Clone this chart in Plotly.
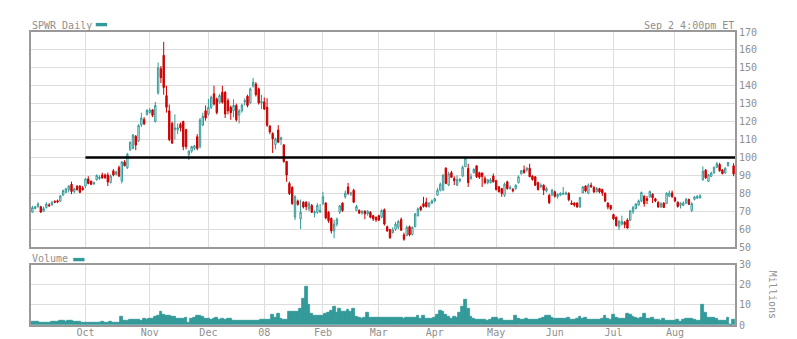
import pandas as pd
import plotly.graph_objects as go

# ---------------- data ----------------
holidays = ["2007-11-22", "2007-12-25", "2008-01-01", "2008-01-21", "2008-02-18",
            "2008-03-21", "2008-05-26", "2008-07-04", "2008-09-01"]
days = [d for d in pd.bdate_range("2007-09-04", "2008-09-02") if d.strftime("%Y-%m-%d") not in holidays]
dates = [d.strftime("%Y-%m-%d") for d in days]

opens = [69.5,71.5,72.5,72.5,70,72,73.5,73.5,75.5,75.8,75.5,79,80.5,82,85,81,84,84,83,
         84,88,86.8,85.2,87.5,88.2,90.2,90.2,90.2,86,92.5,90.6,94.3,86.8,97.5,94.3,104.3,105,111.8,109.3,118.2,121.2,123.8,
         125,126.5,120,136,149.5,157,134.5,126,119,115.5,115.5,118.5,120,115.5,101.5,103.5,105,111.5,106,118,126,
         124.2,128,135.5,132.6,130.8,136.4,136.4,131.7,128,126,129,123.6,126,131,134.2,130.4,139.8,141,138.3,130.4,
         131,128,117.5,113.4,107.2,115.3,110,107,97.7,85.5,83.2,66.6,75.7,65.7,75.1,75,71.3,73.2,69,69.4,69.4,
         74.2,74.5,69.4,66,59,62.8,69.4,74.5,78,83.5,79.5,81.7,70.4,70.4,69,70,68.5,69.4,67.5,66.6,
         67.5,66.6,70.8,61.3,59.8,58,60,61,65.3,56.8,56.4,61.3,57,61.3,67.5,72.3,74.2,75,72.6,74.5,
         75.7,78.9,81.7,81.7,94,84.5,91.5,88.3,84.5,87,89.6,94.9,93.8,88.3,91.5,95.3,91.5,91.3,88.3,85.9,85.9,89.6,
         87,83.6,82.6,78.9,86.4,82.6,82.1,82.6,85.9,90.8,93,93,94,89.6,89.2,85.9,83.6,84.5,81.3,78.9,79,
         80.8,78,79,79.4,79.5,80,74.5,74.5,74.5,72.3,80.2,84,80,84.5,83.2,80.8,82.6,82.1,80,74.5,73.2,
         68.1,66.6,61.3,62.8,63.8,65.1,64.9,69.6,71.5,73.4,75.7,78.3,77,78,79.4,76.9,75,72.3,74.5,74.2,78.3,80.2,
         77.5,75,73.2,73.2,74.5,76.6,70.4,76.6,77.2,77.5,87.5,92.9,86.6,89.4,91.3,94.5,96,93,91.3,95.3,None,95.3]
highs = [73,73,75,73,72.5,75,74.5,75.5,76,76.5,79,82,83,84.5,86.5,83,84.5,84.5,84,
         88.5,89.5,87,86.5,90.5,90,91.5,91,91.5,90.5,93.5,92.5,95.5,98,98.5,102.5,109,113,112.5,118.5,125,122.5,127,
         127.5,127,131,153,151,164.5,140,129.5,120,124,119,119.5,120.5,116,104,106.5,107,113,122,125,129,
         132.6,134.5,140,133.5,135.5,140,137,133,129,132.5,130,127,130,133,135,139,144.3,142,139,135,
         133.5,133,118,114,111,118,111.5,107.5,98,86.5,84,79,76.5,76.5,75.5,75.5,75.5,74,70.5,74.5,74,
         80.8,75,70,66.5,65,66.5,73.5,75,81.5,85.8,80.5,82.5,73.5,71,70.5,70.5,70.5,70,68,67,
         68,71,71.5,62,60,61,64,65,66.5,58,62,62,61.5,69,72,73,78,77.5,75,76.5,
         77.5,83,86,90.5,94.5,92,92.5,89.5,90,88.5,95.5,100.5,96.5,91,94,95.5,92,91.5,89.5,88,88.5,91,
         87.5,84,83,86,87,84.5,83,85,90,93,95.5,94.5,96.5,90,89.5,86.5,85.5,85,83.5,79.5,82.5,
         81.5,80,80.5,83.5,81,80.5,76,75,75,78,84,84.5,85.5,86,84,83.5,83,82.5,80.5,75,73.5,
         68.5,67,65,67.5,64.5,66,70.5,73,74.5,76.5,81,79,78.5,81.5,80,77.5,75.5,75,75,80.5,81.5,81.5,
         78,75.5,75,75.5,77.5,77,75,78.5,79,79.5,95,93.5,90.8,92,95,97.5,97,93.5,94.5,97.5,None,96.8]
lows = [69,71,72,69,69.5,71.5,72.5,73,74.5,74.5,75.5,78.5,80,80.5,79.5,80,81.5,80,81.5,
        83,85,84.5,84.8,87,87.5,88,88,84,85.5,89.5,90,89,85.5,95,93.5,103.5,104.5,104,108.5,117,118,123.5,
        124.5,122.5,119.5,135,141.5,135,125,109,107.5,110,113,114.5,104,104.5,98.5,102.5,104,104,105,117.5,120.5,
        123.3,127,129,124,130,130,122,124,121,122.5,120,119,125,129,128,130,139,134,129.5,127,
        126.5,117,113,102.5,104.5,108,107,97,86.4,79,73.5,65,73,60,71.5,70.5,70,69,66.5,68.5,70,
        73.5,65.5,63.5,57.5,54.9,61.5,68.5,69.5,77,79,78.5,74.5,70,68.5,68,65.5,67.5,66,64.5,64,
        64.5,66,62,58.5,54.5,57.5,59,60,59,53.5,56,56,56.5,61,67,70,72,72,72,74,
        75,78.5,81,81.5,85,84,88.5,84.5,84,86,89,94.5,83.5,87.5,91,88.5,88,83.5,85,85,85.5,86,
        81.5,80.5,78,78,82,82,80.5,82,85.5,90.5,91,92,89,87,84,81.5,83,79,80.5,74,78.5,
        77.5,77,78.5,79,79,75.5,73.5,72.5,72,72,80,80.5,79.5,83,80,80.5,80,78.5,75,71,70.5,
        65,61.5,59.5,62,60.5,60.2,64.5,68.5,71,73,75,72.5,74,77.5,74.5,75,72,72,71.8,74,78,77.5,
        75,72,71.5,73,74,73.5,69.5,76,77,77,87,88,86.5,89,91,94,92,90.5,91,95,None,89.5]
closes = [72,72.5,74,69.5,71.5,74,73,75,75,75.2,78.5,81.5,82.5,84,81,82.5,82,80.5,82,
          88,85.5,85,86,90,89,88.7,88.7,86.3,89.6,90.2,91.9,89.6,97.5,95.3,101.8,108.4,112.5,106.9,117.8,122,118.8,126.2,
          126.5,123.5,129,150,144.5,139,128,110,108,116.5,116.5,116.5,106,106,103.5,106,106.5,105,121,123,122,
          127.9,133.6,129.8,125,134.5,130.8,124.2,126,125,129,121,126,129.2,131.7,129,138.3,142,135,130.4,131.2,
          127,118,114.2,110.4,110.4,108.5,111,97.7,90.2,79.8,74.2,78,73.8,69.4,72.3,72.5,74.2,69.4,69.5,73.2,70.5,
          78,66.2,64.7,59,62.8,65.5,73,70.4,80,80,80.2,75,72.6,68.9,70,68.5,70,66.6,65.7,65.1,
          65,70.4,62.8,59,55.2,59.6,62.8,64.3,59.4,54.3,61,56.8,61,68.5,71.3,70.8,72.6,72.6,74.5,75.7,
          77,81.7,85,90.2,85.5,90.8,88.9,87,87.7,87.7,94.5,99.6,85.9,89.2,93.3,89.2,88.9,89.4,85.9,87.5,87.5,86.4,
          82.1,80.8,79.8,85,82.6,83.2,81.3,84.5,89.2,92.6,91.5,94,89.2,87.7,84.5,82.1,84.5,81.7,82.6,74.7,81.7,
          78.3,79.4,80,80,80.2,76.4,73.8,73.4,72.3,77.5,83.6,81.3,84.5,83.6,80.8,82.6,80.8,80.2,75.7,72.3,71.3,
          65.7,61.9,64.3,64.3,62.5,60.6,70.2,72.1,74,75.8,80.4,74.2,76,81,77.5,75.7,72.3,74.2,72,80,80.2,78,
          75.7,72.6,74.5,74.5,76.6,73.8,74.2,78,78.3,78.5,92.3,88.6,90.4,91.3,94.5,96.5,92.6,91,94,97.2,None,90.8]
volume_m = [1.5,1.4,1.5,1.3,1.3,1.2,1.3,1.5,1.4,1.6,2.0,2.1,1.8,2.2,2.0,1.6,1.5,1.6,1.3,
            1.0,1.0,0.9,1.0,1.1,1.3,1.4,1.2,1.3,1.5,1.1,1.0,1.2,4.0,2.2,2.0,2.6,2.7,2.5,2.4,2.2,3.0,2.7,
            3.2,3.0,4.0,4.5,6.5,5.0,4.5,4.6,4.2,4.0,3.2,3.0,3.3,3.6,1.2,3.0,3.8,4.5,4.6,4.3,3.2,
            3.0,2.8,3.0,3.6,2.8,2.9,2.8,3.0,3.0,2.2,2.2,2.1,2.0,2.2,2.1,2.0,2.3,2.0,2.1,2.4,
            2.5,2.4,2.6,5.0,3.5,5.5,3.0,2.5,2.5,6.5,6.5,6.5,6.5,8.0,13.0,19.0,10.0,5.5,4.5,4.5,4.5,
            4.5,5.5,6.0,7.0,9.0,6.0,8.0,6.5,6.5,7.5,6.5,8.0,4.0,3.5,3.0,3.5,6.0,3.8,3.5,3.5,
            3.5,3.6,3.4,3.5,3.8,3.5,3.6,3.4,3.5,3.3,3.5,3.6,3.5,3.4,4.5,3.2,4.5,3.0,3.0,3.3,
            3.5,5.0,7.0,6.5,5.0,4.0,3.0,4.0,3.5,6.0,9.0,12.5,8.0,4.0,3.0,2.5,2.5,2.5,2.5,2.0,2.5,3.5,
            3.5,2.5,3.0,2.2,2.0,2.0,2.2,4.5,3.0,2.5,2.5,3.0,2.5,2.5,2.5,2.5,3.0,3.5,4.5,4.5,3.8,
            3.0,3.0,3.2,3.0,3.0,3.5,2.8,2.5,3.0,4.0,3.0,3.5,2.8,2.5,2.5,2.5,2.8,3.2,4.5,3.0,2.5,
            5.0,3.5,3.0,3.0,3.0,5.5,5.0,4.0,3.5,3.0,3.5,5.5,3.0,3.0,3.5,2.5,2.5,2.0,3.0,2.0,2.0,2.0,
            2.0,2.5,1.5,2.5,3.0,3.0,3.0,2.5,2.0,2.0,10.0,6.0,3.5,3.5,3.5,3.2,2.0,2.0,2.0,3.5,0,2.5]

month_labels = ["Oct", "Nov", "Dec", "08", "Feb", "Mar", "Apr", "May", "Jun", "Jul", "Aug"]
resistance = 100
line_start = "2007-10-01"

# month starts (first trading day of each month after the first)
month_ticks = []
prev = None
for d in dates:
    m = d[:7]
    if prev is not None and m != prev:
        month_ticks.append(d)
    prev = m
month_ticks = month_ticks[:len(month_labels)]

TEAL = "#339999"
RED = "#cc0000"
GRID = "#dddddd"
BORDER = "#999999"
TXT = "#8f8f8f"
FONT = "DejaVu Sans Mono"

fig = go.Figure()
fig.add_trace(go.Candlestick(
    x=dates, open=opens, high=highs, low=lows, close=closes,
    increasing=dict(line=dict(color=TEAL, width=1), fillcolor="white"),
    decreasing=dict(line=dict(color=RED, width=1), fillcolor=RED),
    whiskerwidth=0, xaxis="x", yaxis="y", showlegend=False, hoverinfo="skip"))
fig.add_trace(go.Bar(
    x=dates, y=volume_m, marker=dict(color=TEAL, line=dict(width=0.8, color=TEAL)),
    xaxis="x2", yaxis="y2", showlegend=False, hoverinfo="skip"))

n = len(dates)
common_x = dict(type="category", categoryorder="array", categoryarray=dates,
                range=[-0.5, n - 0.5], showgrid=True, gridcolor=GRID, gridwidth=1,
                tickvals=month_ticks, ticktext=month_labels, showline=True, linecolor=BORDER,
                linewidth=2, mirror=True, zeroline=False, ticks="", fixedrange=True,
                automargin=False)
yfont = dict(family=FONT, size=10, color=TXT)
fig.update_layout(
    width=797, height=339,
    margin=dict(l=31, r=62, t=32, b=14),
    paper_bgcolor="white", plot_bgcolor="white",
    font=dict(family=FONT, size=10, color=TXT),
    bargap=0,
    xaxis=dict(common_x, anchor="y", showticklabels=False, rangeslider=dict(visible=False)),
    xaxis2=dict(common_x, anchor="y2", matches="x", showticklabels=True,
                tickfont=dict(family=FONT, size=10, color=TXT), ticklabelstandoff=-3),
    yaxis=dict(domain=[0.2662, 1], range=[50, 170], dtick=10, side="right", showgrid=True,
               gridcolor=GRID, showline=True, linecolor=BORDER, linewidth=2, mirror=True,
               zeroline=False, ticks="", tickfont=yfont, automargin=False),
    yaxis2=dict(domain=[0, 0.2058], range=[0, 30], dtick=10, side="right", showgrid=True,
                gridcolor=GRID, showline=True, linecolor=BORDER, linewidth=2, mirror=True,
                zeroline=False, ticks="", tickfont=yfont, automargin=False),
)

fig.add_shape(type="line", xref="x", yref="y", x0=dates.index(line_start), x1=n - 0.5,
              y0=resistance, y1=resistance, line=dict(color="black", width=2.5))

annos = [
    dict(text="SPWR Daily", x=0, y=1, xref="paper", yref="paper", xanchor="left", yanchor="bottom"),
    dict(text="Sep 2 4:00pm ET", x=1, y=1, xref="paper", yref="paper", xanchor="right", yanchor="bottom"),
    dict(text="Volume", x=0, y=0.2058, xref="paper", yref="paper", xanchor="left", yanchor="bottom"),
    dict(text="Millions", x=1, y=0.103, xref="paper", yref="paper", xanchor="center", yanchor="middle",
         xshift=37, textangle=90),
]
for a in annos:
    fig.add_annotation(showarrow=False, font=dict(family=FONT, size=10, color=TXT), borderpad=0, **a)

# legend swatches
fig.add_shape(type="rect", xref="paper", yref="paper", x0=0.092, x1=0.108, y0=1.0195, y1=1.031,
              fillcolor=TEAL, line=dict(width=0))
fig.add_shape(type="rect", xref="paper", yref="paper", x0=0.06, x1=0.076, y0=0.2175, y1=0.229,
              fillcolor=TEAL, line=dict(width=0))

fig.write_html("out.html")
